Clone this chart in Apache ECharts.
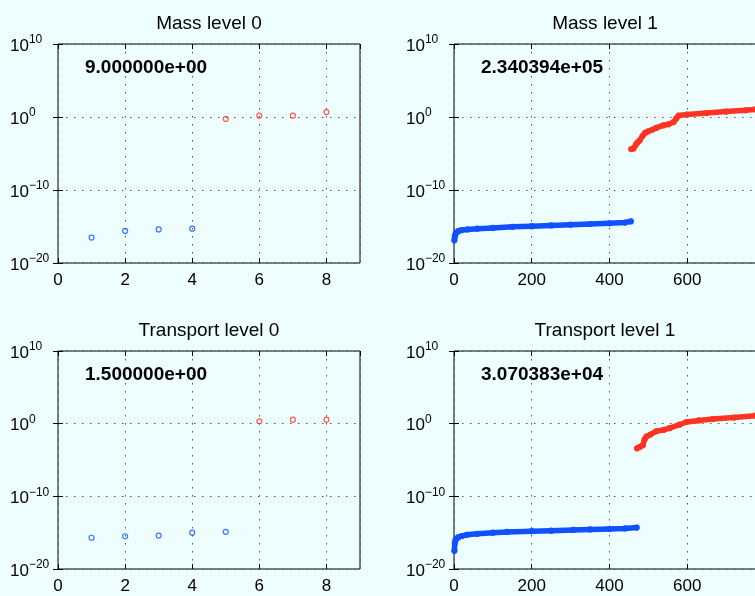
<!DOCTYPE html>
<html>
<head>
<meta charset="utf-8">
<script src="https://cdn.jsdelivr.net/npm/echarts@6/dist/echarts.min.js"></script>
<style>
  html, body { margin: 0; padding: 0; background: #eefefe; }
  #chart { width: 755px; height: 596px; }
</style>
</head>
<body>
<div id="chart"></div>
<script>
// panel titles and the number printed inside each panel
const titles = ['Mass level 0', 'Mass level 1', 'Transport level 0', 'Transport level 1']
const notes = ['9.000000e+00', '2.340394e+05', '1.500000e+00', '3.070383e+04']

// level 0: individual points
const massL0BlueX = [1, 2, 3, 4]
const massL0BlueY = [3e-17, 2.5e-16, 4e-16, 5e-16]
const massL0RedX = [5, 6, 7, 8]
const massL0RedY = [0.54, 1.5, 1.5, 4.8]

const transL0BlueX = [1, 2, 3, 4, 5]
const transL0BlueY = [2e-16, 3.2e-16, 4e-16, 1e-15, 1.3e-15]
const transL0RedX = [6, 7, 8]
const transL0RedY = [2.1, 3.5, 3.5]

// level 1: dense runs, read at points along the band
const massL1BlueX = [1, 2, 4, 7, 12, 20, 35, 60, 100, 150, 200, 250, 300, 350, 400, 440, 455]
const massL1BlueY = [1.26e-17, 4e-17, 1e-16, 1.6e-16, 2.5e-16, 3.2e-16, 4e-16, 5e-16, 6.3e-16,
  8.9e-16, 1.1e-15, 1.4e-15, 1.8e-15, 2.2e-15, 2.8e-15, 3.5e-15, 5e-15]
const massL1RedX = [456, 462, 468, 472, 478, 485, 492, 500, 510, 520, 538, 552, 565, 572, 578,
  600, 650, 700, 750, 776]
const massL1RedY = [4e-5, 5e-5, 1.6e-4, 3.2e-4, 6.3e-4, 2.5e-3, 7e-3, 0.011, 0.018, 0.032,
  0.071, 0.1, 0.2, 0.63, 1.6, 2.2, 3.5, 5.6, 8.3, 11.2]

const transL1BlueX = [1, 2, 4, 7, 12, 20, 33, 60, 100, 136, 200, 250, 307, 350, 400, 440, 470]
const transL1BlueY = [3.2e-18, 3.2e-17, 1e-16, 1.6e-16, 2.5e-16, 3.5e-16, 5e-16, 7e-16, 1e-15,
  1.26e-15, 1.6e-15, 1.9e-15, 2.4e-15, 2.8e-15, 3.3e-15, 3.8e-15, 5e-15]
const transL1RedX = [471, 478, 486, 490, 495, 505, 520, 540, 555, 580, 598, 630, 666, 720, 776]
const transL1RedY = [4e-4, 6.3e-4, 1.1e-3, 6.3e-3, 0.016, 0.032, 0.089, 0.14, 0.25, 0.72, 1.7,
  2.8, 4.4, 7.1, 12.6]

const xMax = [9, 777, 9, 777]
const xStep = [2, 200, 2, 200]

const BG = '#eefefe'
const BLUE = '#1050ff'
const RED = '#ff3322'
const FONT = '"Liberation Sans", Helvetica, Arial, sans-serif'

const boxes = [
  { left: 58, top: 44, width: 302, height: 219 },
  { left: 454, top: 44, width: 302, height: 219 },
  { left: 58, top: 351, width: 302, height: 218 },
  { left: 454, top: 351, width: 302, height: 218 }
]

const pairs = (xs, ys) => xs.map((x, i) => [x, ys[i]])

const dotted = { show: true, lineStyle: { color: '#555', width: 1, type: [1.5, 6.5] } }
const tick = { show: true, inside: true, length: 5, lineStyle: { color: '#000' } }

function supLabel(v) {
  const e = Math.round(Math.log10(v))
  return '{b|10}{s|' + String(e).replace('-', '\u2212') + '}'
}

const grid = []
const xAxis = []
const yAxis = []
boxes.forEach((b, i) => {
  grid.push(Object.assign({
    show: true, backgroundColor: BG, borderColor: '#000', borderWidth: 1,
    containLabel: false, outerBoundsMode: 'none'
  }, b))
  // bottom / left axes with labels
  xAxis.push({
    gridIndex: i, type: 'value', min: 0, max: xMax[i], interval: xStep[i],
    axisLine: { show: false }, axisTick: tick, splitLine: dotted,
    axisLabel: { color: '#000', fontSize: 17, fontFamily: FONT, margin: 9, showMaxLabel: false }
  })
  yAxis.push({
    gridIndex: i, type: 'log', logBase: 10, min: 1e-20, max: 1e10, interval: 10, splitNumber: 3,
    axisLine: { show: false }, axisTick: tick, splitLine: dotted,
    axisLabel: {
      align: 'left', margin: 48, formatter: supLabel,
      rich: {
        b: { fontSize: 17, fontFamily: FONT, color: '#000', padding: [4, 0, 0, 0] },
        s: { fontSize: 12, fontFamily: FONT, color: '#000', padding: [0, 0, 8, 0] }
      }
    }
  })
})
// top / right tick marks only
boxes.forEach((b, i) => {
  xAxis.push({
    gridIndex: i, type: 'value', position: 'top', min: 0, max: xMax[i], interval: xStep[i],
    axisLine: { show: false }, axisTick: tick, splitLine: { show: false }, axisLabel: { show: false }
  })
  yAxis.push({
    gridIndex: i, type: 'log', logBase: 10, position: 'right', min: 1e-20, max: 1e10,
    interval: 10, splitNumber: 3,
    axisLine: { show: false }, axisTick: tick, splitLine: { show: false }, axisLabel: { show: false }
  })
})

function dots(i, data, color) {
  return {
    type: 'scatter', xAxisIndex: i, yAxisIndex: i, data: data,
    symbol: 'circle', symbolSize: 5,
    itemStyle: { color: 'rgba(0,0,0,0)', borderColor: color, borderWidth: 1.2 }
  }
}

function band(i, data, color) {
  return {
    type: 'line', xAxisIndex: i, yAxisIndex: i, data: data,
    symbol: 'circle', symbolSize: 5, showSymbol: true,
    itemStyle: { color: 'rgba(0,0,0,0)', borderColor: color, borderWidth: 1.2 },
    lineStyle: { color: color, width: 5.5, cap: 'round', join: 'round' }
  }
}

const series = [
  dots(0, pairs(massL0BlueX, massL0BlueY), BLUE),
  dots(0, pairs(massL0RedX, massL0RedY), RED),
  band(1, pairs(massL1BlueX, massL1BlueY), BLUE),
  band(1, pairs(massL1RedX, massL1RedY), RED),
  dots(2, pairs(transL0BlueX, transL0BlueY), BLUE),
  dots(2, pairs(transL0RedX, transL0RedY), RED),
  band(3, pairs(transL1BlueX, transL1BlueY), BLUE),
  band(3, pairs(transL1RedX, transL1RedY), RED)
]

const graphic = []
boxes.forEach((b, i) => {
  graphic.push({
    type: 'text', x: b.left + 151, y: b.top - 20,
    style: { text: titles[i], font: '19px ' + FONT, fill: '#000', textAlign: 'center', textVerticalAlign: 'middle' }
  })
  graphic.push({
    type: 'text', x: b.left + 27, y: b.top + 24,
    style: { text: notes[i], font: 'bold 19px ' + FONT, fill: '#000', textAlign: 'left', textVerticalAlign: 'middle' }
  })
})

const chart = echarts.init(document.getElementById('chart'), null, { renderer: 'canvas' })
chart.setOption({
  backgroundColor: BG,
  animation: false,
  grid: grid,
  xAxis: xAxis,
  yAxis: yAxis,
  series: series,
  graphic: graphic
})
</script>
</body>
</html>
